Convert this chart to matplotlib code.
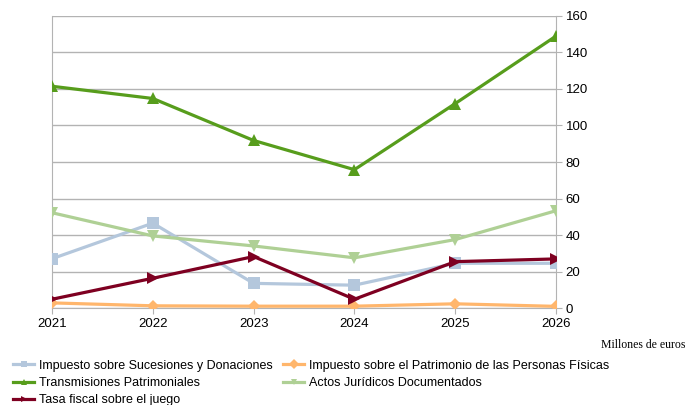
import matplotlib.pyplot as plt
from matplotlib.lines import Line2D

plt.rcParams["font.family"] = ["Liberation Sans", "DejaVu Sans"]

years = ["2021", "2022", "2023", "2024", "2025", "2026"]
sucesiones = [27.0, 46.5, 13.5, 12.5, 24.5, 24.5]
patrimonio = [2.8, 1.2, 1.0, 1.0, 2.3, 0.9]
transmisiones = [121.5, 114.8, 91.8, 75.8, 112.0, 149.0]
ajd = [52.2, 39.5, 34.0, 27.5, 37.5, 53.3]
juego = [4.8, 16.3, 28.2, 4.8, 25.4, 26.9]

series = [
    ("Impuesto sobre Sucesiones y Donaciones", sucesiones, "#b4c7dc", "s"),
    ("Impuesto sobre el Patrimonio de las Personas Físicas", patrimonio, "#ffb66c", "D"),
    ("Transmisiones Patrimoniales", transmisiones, "#579d1c", "^"),
    ("Actos Jurídicos Documentados", ajd, "#afd095", "v"),
    ("Tasa fiscal sobre el juego", juego, "#7e0021", ">"),
]
msizes = {"s": 8, "D": 6, "^": 8, "v": 8, ">": 8}

fig = plt.figure(figsize=(6.86, 4.05), dpi=100)
ax = fig.add_axes([0.0758, 0.2395, 0.7347, 0.721])

x = list(range(len(years)))
for name, vals, color, m in series:
    ax.plot(x, vals, color=color, lw=2.3, marker=m, markersize=msizes[m],
            markeredgewidth=0, label=name, zorder=3)

ax.set_xlim(0, len(years) - 1)
ax.set_ylim(0, 160)
ax.set_yticks(range(0, 161, 20))
ax.set_xticks(x)
ax.set_xticklabels(years)
ax.yaxis.tick_right()
ax.grid(axis="y", color="#b3b3b3", lw=1)
ax.set_axisbelow(True)
ax.spines["top"].set_visible(False)
for side in ["left", "right", "bottom"]:
    ax.spines[side].set_color("#b3b3b3")
ax.tick_params(axis="both", colors="#b3b3b3", labelcolor="black",
               labelsize=9.5, length=4)
ax.tick_params(axis="y", pad=3)

fig.text(0.999, 0.148, "Millones de euros", ha="right", va="center",
         fontsize=8.5, family="Liberation Serif")

# legend is filled row by row in the reference; matplotlib fills by column
order = [0, 2, 4, 1, 3]
handles = [Line2D([], [], color=series[i][2], lw=2.3, marker=series[i][3],
                  markersize=5, markeredgewidth=0) for i in order]
labels = [series[i][0] for i in order]
fig.legend(handles, labels, ncol=2, loc="upper left",
           bbox_to_anchor=(0.012, 0.124), frameon=False, fontsize=9,
           handlelength=1.7, handletextpad=0.4, columnspacing=0.8,
           labelspacing=0.42, borderaxespad=0)

fig.savefig("out.png", dpi=100)
